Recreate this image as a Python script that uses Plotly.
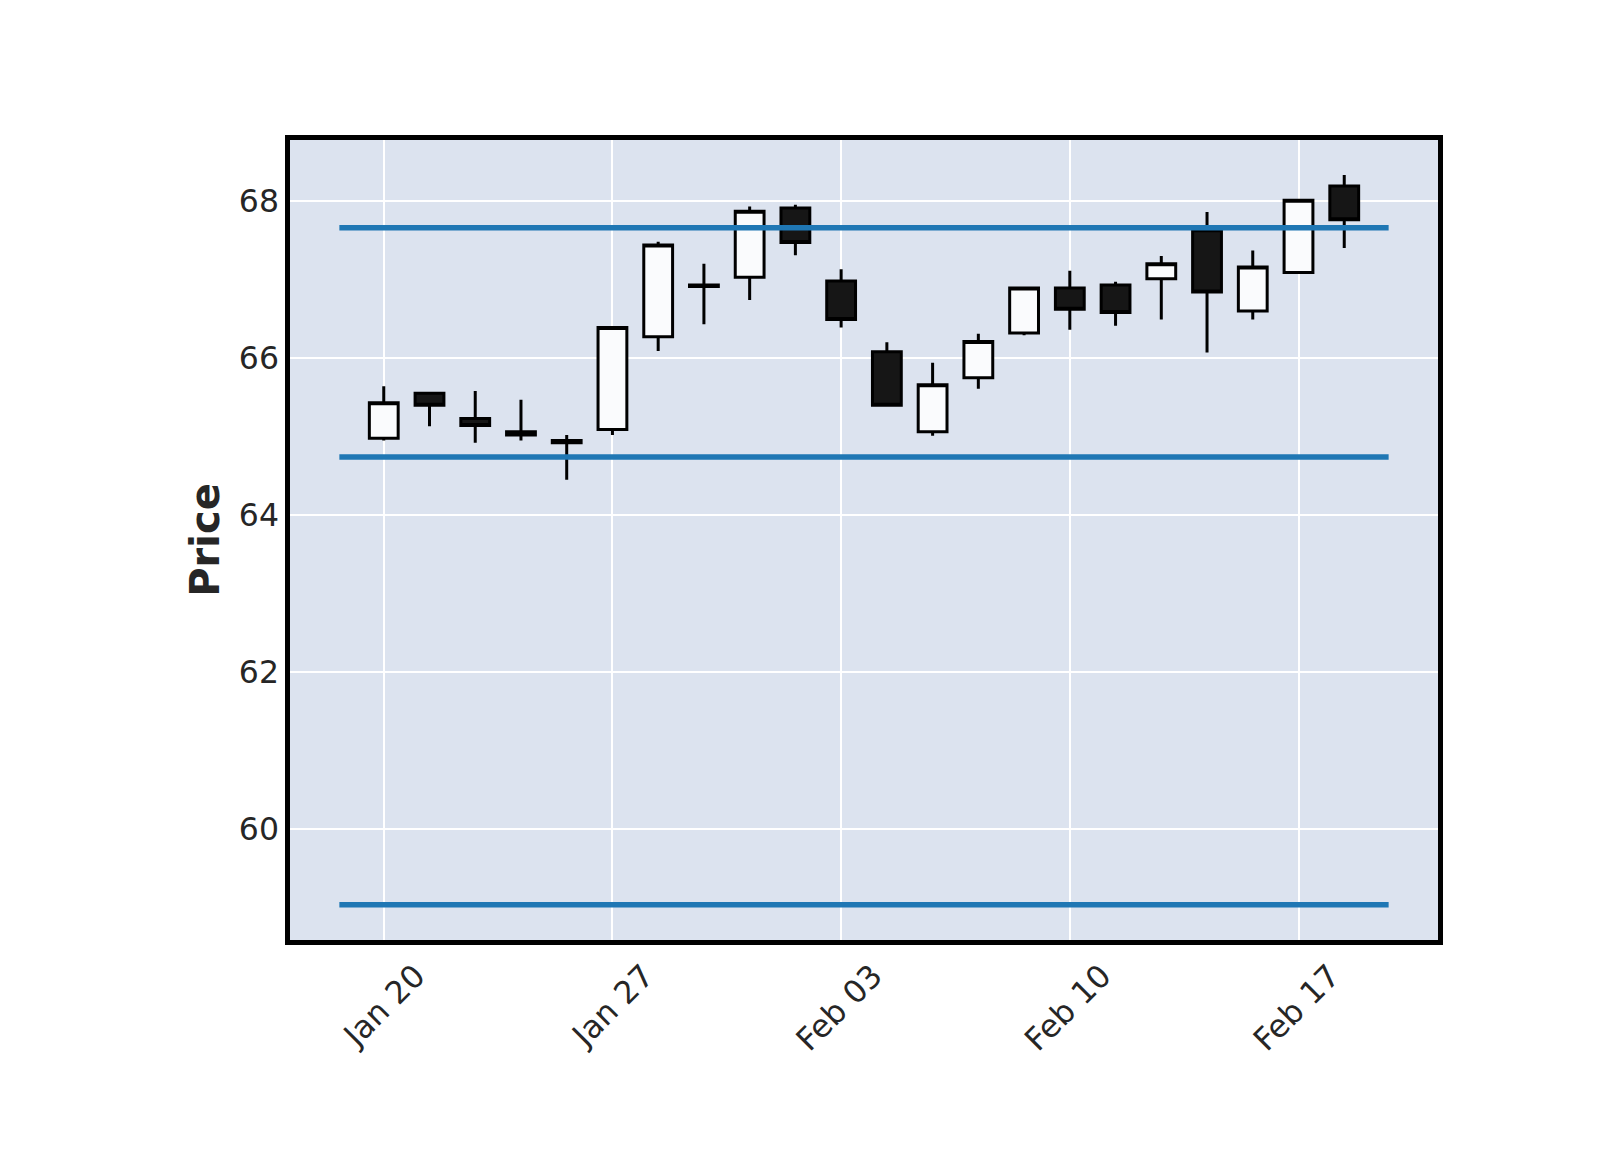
import plotly.graph_objects as go

# ---- data ----
dates = [
    "2025-01-20", "2025-01-21", "2025-01-22", "2025-01-23", "2025-01-24",
    "2025-01-27", "2025-01-28", "2025-01-29", "2025-01-30", "2025-01-31",
    "2025-02-03", "2025-02-04", "2025-02-05", "2025-02-06", "2025-02-07",
    "2025-02-10", "2025-02-11", "2025-02-12", "2025-02-13", "2025-02-14",
    "2025-02-17", "2025-02-18",
]
opens = [64.98, 65.55, 65.23, 65.06, 64.95, 65.09, 66.27, 66.93, 67.03, 67.91,
         66.98, 66.08, 65.06, 65.75, 66.32, 66.89, 66.93, 67.01, 67.62, 66.60,
         67.09, 68.19]
highs = [65.64, 65.57, 65.58, 65.47, 65.02, 66.40, 67.48, 67.20, 67.93, 67.95,
         67.13, 66.20, 65.94, 66.31, 66.89, 67.11, 66.97, 67.30, 67.86, 67.37,
         68.01, 68.33]
lows = [64.95, 65.13, 64.92, 64.95, 64.45, 65.02, 66.09, 66.43, 66.74, 67.31,
        66.39, 65.40, 65.01, 65.61, 66.29, 66.36, 66.41, 66.49, 66.07, 66.49,
        67.09, 67.40]
closes = [65.43, 65.40, 65.14, 65.02, 64.92, 66.39, 67.44, 66.91, 67.87, 67.47,
          66.49, 65.40, 65.66, 66.21, 66.89, 66.62, 66.58, 67.20, 66.84, 67.16,
          68.01, 67.76]

hline_levels = [67.66, 64.74, 59.04]

tick_dates = ["2025-01-20", "2025-01-27", "2025-02-03", "2025-02-10", "2025-02-17"]
tick_labels = ["Jan 20", "Jan 27", "Feb 03", "Feb 10", "Feb 17"]
y_ticks = [60, 62, 64, 66, 68]

FONT = "DejaVu Sans"
TXT = "#262626"

fig = go.Figure()
fig.add_trace(go.Candlestick(
    x=dates, open=opens, high=highs, low=lows, close=closes,
    increasing=dict(fillcolor="#fafbfd", line=dict(color="#000000", width=3)),
    decreasing=dict(fillcolor="#161616", line=dict(color="#000000", width=3)),
    whiskerwidth=0,
    showlegend=False,
    hoverinfo="skip",
))

for lvl in hline_levels:
    fig.add_shape(type="line", xref="paper", yref="y",
                  x0=0.043, x1=0.957, y0=lvl, y1=lvl,
                  line=dict(color="#1f77b4", width=5.5), layer="above")

# the page body adds an 8px offset, so margins are shifted accordingly
fig.update_layout(
    width=1600, height=1150,
    margin=dict(l=282, r=170, t=132, b=218),
    paper_bgcolor="white",
    plot_bgcolor="#DCE3EF",
    font=dict(family=FONT, size=31.5, color=TXT),
    showlegend=False,
    boxgap=0.37, boxgroupgap=0,
)
fig.update_xaxes(
    type="category",
    automargin=False,
    range=[-2.05, 23.05],
    tickmode="array", tickvals=tick_dates, ticktext=tick_labels,
    tickangle=-45,
    ticklabelshift=32,
    showgrid=True, gridcolor="white", gridwidth=1.6,
    showline=True, mirror=True, linecolor="black", linewidth=4.5,
    ticks="",
    rangeslider=dict(visible=False),
    tickfont=dict(family=FONT, size=31.5, color=TXT),
    zeroline=False,
)
fig.update_yaxes(
    automargin=False,
    range=[58.59, 68.776],
    tickmode="array", tickvals=y_ticks,
    showgrid=True, gridcolor="white", gridwidth=1.6,
    showline=True, mirror=True, linecolor="black", linewidth=4.5,
    ticks="",
    tickfont=dict(family=FONT, size=31.5, color=TXT),
    title=dict(text="Price", font=dict(family=FONT, size=40, color=TXT, weight="bold"), standoff=8),
    zeroline=False,
)

fig.write_html("out.html")
